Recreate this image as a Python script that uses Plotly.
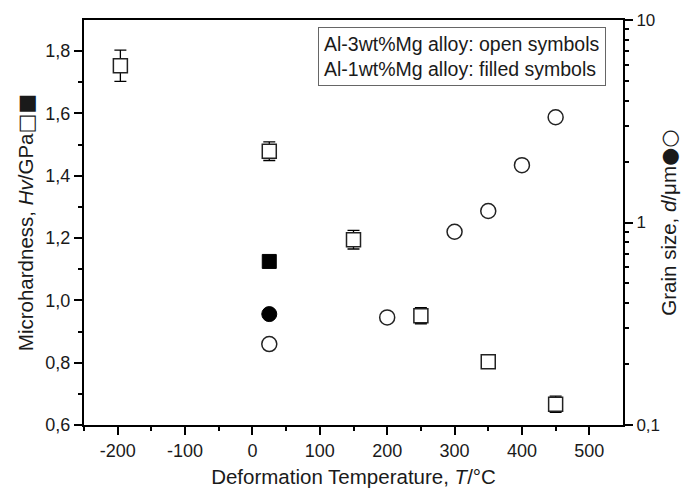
import plotly.graph_objects as go

# Microhardness (left axis), Al-3wt%Mg: open squares
hv_T = [-196, 25, 150, 250, 350, 450]
hv_val = [1.753, 1.479, 1.195, 0.951, 0.803, 0.667]
hv_err = [0.05, 0.03, 0.03, 0.026, 0.0, 0.026]

# Microhardness, Al-1wt%Mg: filled square
hv1_T = [25]
hv1_val = [1.125]

# Grain size (right axis, log), Al-3wt%Mg: open circles
d_T = [25, 200, 300, 350, 400, 450]
d_val = [0.251, 0.340, 0.90, 1.14, 1.92, 3.31]

# Grain size, Al-1wt%Mg: filled circle
d1_T = [25]
d1_val = [0.353]

x_ticks = [-200, -100, 0, 100, 200, 300, 400, 500]
x_ticktext = ["-200", "-100", "0", "100", "200", "300", "400", "500"]
y_ticks = [0.6, 0.8, 1.0, 1.2, 1.4, 1.6, 1.8]
y_ticktext = ["0,6", "0,8", "1,0", "1,2", "1,4", "1,6", "1,8"]
y2_ticks = [0.1, 1, 10]
y2_ticktext = ["0,1", "1", "10"]

FONT = "Liberation Sans, Arial, sans-serif"
SYM = "<span style='font-family:DejaVu Sans;font-size:21px'>{}</span>"

fig = go.Figure()

fig.add_trace(go.Scatter(
    x=hv_T, y=hv_val, mode="markers",
    error_y=dict(type="data", array=hv_err, color="black", thickness=1.3, width=6),
    marker=dict(symbol="square", size=14, color="white", line=dict(color="#222", width=1.5)),
    showlegend=False))
fig.add_trace(go.Scatter(
    x=hv1_T, y=hv1_val, mode="markers",
    marker=dict(symbol="square", size=14, color="black", line=dict(color="black", width=1)),
    showlegend=False))
fig.add_trace(go.Scatter(
    x=d_T, y=d_val, mode="markers", yaxis="y2",
    marker=dict(symbol="circle", size=15, color="white", line=dict(color="#222", width=1.5)),
    showlegend=False))
fig.add_trace(go.Scatter(
    x=d1_T, y=d1_val, mode="markers", yaxis="y2",
    marker=dict(symbol="circle", size=15, color="black", line=dict(color="black", width=1)),
    showlegend=False))

minor_log = [k * 0.1 for k in range(2, 10)] + [float(k) for k in range(2, 10)]

fig.update_layout(
    width=681, height=492,
    margin=dict(l=84, r=58, t=20, b=67),
    paper_bgcolor="white", plot_bgcolor="white",
    font=dict(family=FONT, size=18, color="#1a1a1a"),
    xaxis=dict(
        range=[-250, 550], tickmode="array",
        tickvals=x_ticks, ticktext=x_ticktext, automargin=False,
        ticks="outside", ticklen=8, tickwidth=1.5, tickcolor="black",
        showline=True, linecolor="black", linewidth=2, mirror=True,
        showgrid=False, zeroline=False,
        minor=dict(tickvals=[-250, -150, -50, 50, 150, 250, 350, 450], ticks="outside", ticklen=4, tickwidth=1.5, tickcolor="black"),
        title=dict(text="Deformation Temperature, <i>T</i>/°C", font=dict(size=20.5), standoff=10),
        tickfont=dict(size=18),
    ),
    yaxis=dict(
        range=[0.6, 1.9], tickmode="array",
        tickvals=y_ticks, ticktext=y_ticktext, automargin=False,
        ticks="outside", ticklen=8, tickwidth=1.5, tickcolor="black",
        showline=True, linecolor="black", linewidth=2,
        showgrid=False, zeroline=False,
        minor=dict(tickvals=[0.7, 0.9, 1.1, 1.3, 1.5, 1.7], ticks="outside", ticklen=4, tickwidth=1.5, tickcolor="black"),
        title=dict(text="Microhardness, <i>Hv</i>/GPa" + SYM.format("□■"), font=dict(size=20.5), standoff=6),
        tickfont=dict(size=18),
    ),
    yaxis2=dict(
        type="log", range=[-1, 1], overlaying="y", side="right",
        tickmode="array", tickvals=y2_ticks, ticktext=y2_ticktext, automargin=False,
        ticks="outside", ticklen=8, tickwidth=1.5, tickcolor="black",
        showline=True, linecolor="black", linewidth=2,
        showgrid=False, zeroline=False,
        minor=dict(tickvals=minor_log, ticks="outside", ticklen=4, tickwidth=1.5, tickcolor="black"),
        title=dict(text="Grain size, <i>d</i>/μm" + SYM.format("●○"), font=dict(size=20.5), standoff=6),
        tickfont=dict(size=17),
    ),
    annotations=[dict(
        xref="paper", yref="paper", x=0.434, y=0.983, xanchor="left", yanchor="top",
        text="Al-3wt%Mg alloy: open symbols<br>Al-1wt%Mg alloy: filled symbols",
        showarrow=False, align="left", font=dict(size=19.5, color="#1a1a1a"),
        bordercolor="#666", borderwidth=1, borderpad=5, bgcolor="white",
    )],
)

fig.write_html("out.html")
